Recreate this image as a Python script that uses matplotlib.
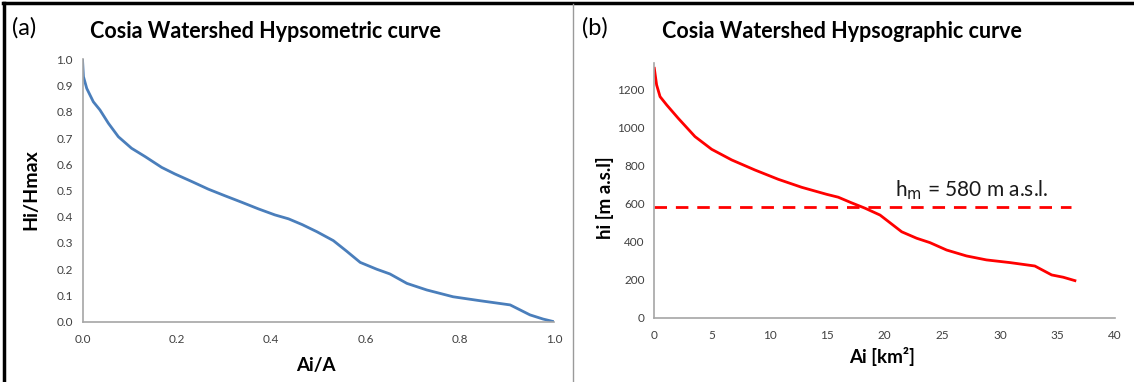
import matplotlib
matplotlib.use("Agg")
import matplotlib.pyplot as plt
from matplotlib.lines import Line2D

# ---- data ----
hyps_x = [0.0, 0.002, 0.009, 0.023, 0.037, 0.055, 0.076, 0.104, 0.133, 0.168, 0.196,
          0.232, 0.267, 0.302, 0.338, 0.373, 0.408, 0.437, 0.466, 0.497, 0.532, 0.560,
          0.589, 0.624, 0.652, 0.688, 0.730, 0.786, 0.843, 0.907, 0.949, 0.977, 1.0]
hyps_y = [1.0, 0.934, 0.889, 0.838, 0.807, 0.756, 0.705, 0.661, 0.629, 0.588, 0.563,
          0.534, 0.505, 0.480, 0.455, 0.430, 0.407, 0.392, 0.370, 0.343, 0.309, 0.269,
          0.226, 0.200, 0.182, 0.146, 0.121, 0.095, 0.080, 0.064, 0.026, 0.010, 0.0]

graph_x = [0.0, 0.2, 0.5, 1.08, 2.08, 3.53, 4.98, 6.72, 8.74, 10.77, 12.8, 14.97, 15.97,
           17.1, 18.3, 19.6, 21.48, 22.78, 23.93, 25.38, 27.1, 28.84, 30.87, 33.04,
           34.5, 35.5, 36.52]
graph_y = [1312, 1225, 1163, 1119, 1049, 953, 886, 830, 777, 728, 686, 649, 634,
           605, 576, 540, 452, 418, 395, 356, 325, 304, 290, 272, 225, 213, 195]

h_mean = 580
h_mean_xend = 36.2

left_xticks = [0.0, 0.2, 0.4, 0.6, 0.8, 1.0]
left_yticks = [0.0, 0.1, 0.2, 0.3, 0.4, 0.5, 0.6, 0.7, 0.8, 0.9, 1.0]
right_xticks = [0, 5, 10, 15, 20, 25, 30, 35, 40]
right_yticks = [0, 200, 400, 600, 800, 1000, 1200]

FONT = ["Lato", "DejaVu Sans"]
plt.rcParams['font.family'] = FONT

W, H = 1134, 382
fig = plt.figure(figsize=(W / 100, H / 100), dpi=100)

def fx(px):
    return px / W

def fy(py):
    return 1 - py / H

spine_col = "#A6A6A6"
tick_col = "#404040"

# left axes
axL = fig.add_axes([fx(82.5), fy(321.7), fx(554) - fx(82.5), fy(59.3) - fy(321.7)])
axL.plot(hyps_x, hyps_y, color="#4A7EBB", lw=2.0, solid_joinstyle="round")
axL.set_xlim(0, 1.0)
axL.set_ylim(0, 1.0)
axL.set_xticks(left_xticks)
axL.set_xticklabels([f"{v:.1f}" for v in left_xticks])
axL.set_yticks(left_yticks)
axL.set_yticklabels([f"{v:.1f}" for v in left_yticks])

# right axes
axR = fig.add_axes([fx(654.3), fy(317.7), fx(1115) - fx(654.3), fy(63) - fy(317.7)])
axR.plot(graph_x, graph_y, color="#FF0000", lw=2.0, solid_joinstyle="round")
axR.plot([0, h_mean_xend], [h_mean, h_mean], color="#FF0000", lw=2.0,
         dashes=(4.5, 3.2))
axR.set_xlim(0, 40)
axR.set_ylim(0, 1340)
axR.set_xticks(right_xticks)
axR.set_yticks(right_yticks)
axR.text(20.9, 640, r"h$_{\mathrm{m}}$ = 580 m a.s.l.", fontsize=15, color="#1a1a1a",
         ha="left", va="baseline", family=FONT)

for ax in (axL, axR):
    for s in ("top", "right"):
        ax.spines[s].set_visible(False)
    for s in ("left", "bottom"):
        ax.spines[s].set_color(spine_col)
        ax.spines[s].set_linewidth(1.2)
    ax.tick_params(length=0, labelsize=8.5, colors=tick_col)
    ax.tick_params(axis="x", pad=9)
    ax.tick_params(axis="y", pad=7)

# axis labels and titles (figure coords)
fig.text(fx(31), fy(190), "Hi/Hmax", rotation=90, ha="center", va="center",
         fontsize=14, fontweight="bold")
fig.text(fx(316), fy(366), "Ai/A", ha="center", va="center",
         fontsize=13.5, fontweight="bold")
fig.text(fx(605), fy(198), "hi [m a.s.l]", rotation=90, ha="center", va="center",
         fontsize=13.5, fontweight="bold")
fig.text(fx(882), fy(356), "Ai [km²]", ha="center", va="center",
         fontsize=13.5, fontweight="bold")

fig.text(fx(12), fy(28), "(a)", ha="left", va="center", fontsize=17)
fig.text(fx(90), fy(31), "Cosia Watershed Hypsometric curve", ha="left", va="center",
         fontsize=15.5, fontweight="bold")
fig.text(fx(582), fy(28), "(b)", ha="left", va="center", fontsize=17)
fig.text(fx(662), fy(31), "Cosia Watershed Hypsographic curve", ha="left", va="center",
         fontsize=15.5, fontweight="bold")

# panel borders
fig.add_artist(Line2D([fx(3), 1], [fy(3), fy(3)], color="black", lw=2.5))
fig.add_artist(Line2D([fx(4), fx(4)], [0, fy(3)], color="black", lw=2.5))
fig.add_artist(Line2D([fx(573), fx(573)], [0, fy(4)], color="#9a9a9a", lw=1.0))

fig.savefig("out.png", dpi=100)
